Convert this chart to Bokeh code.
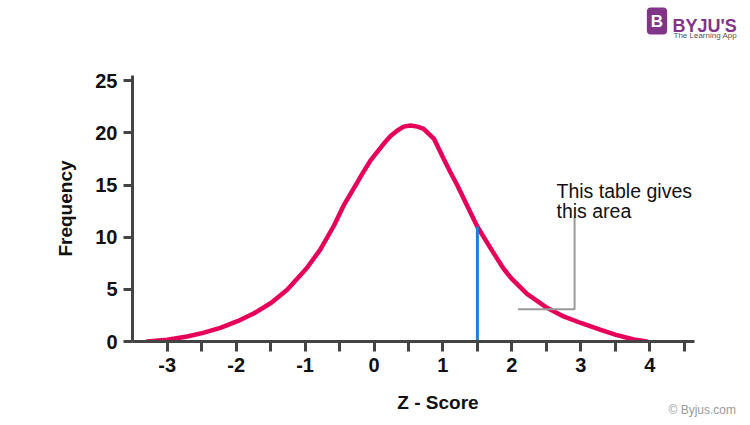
from bokeh.plotting import figure
from bokeh.models import Range1d, FixedTicker, CustomJSTickFormatter, Label
from bokeh.embed import file_html
from bokeh.resources import INLINE

# ---- data ----
z_values = [-3.29, -3.0, -2.71, -2.48, -2.23, -1.98, -1.74, -1.49, -1.26, -0.98,
            -0.78, -0.58, -0.44, -0.24, -0.15, -0.05, 0.14, 0.24, 0.34, 0.43,
            0.53, 0.63, 0.72, 0.87, 0.94, 1.01, 1.11, 1.21, 1.35, 1.5,
            1.69, 1.88, 2.0, 2.22, 2.51, 2.75, 3.01, 3.29, 3.51, 3.77, 3.96]
frequency = [0.0, 0.16, 0.48, 0.83, 1.31, 1.95, 2.71, 3.71, 4.95, 7.0,
             8.8, 11.12, 13.04, 15.27, 16.3, 17.36, 18.95, 19.7, 20.23, 20.6,
             20.7, 20.6, 20.39, 19.43, 18.48, 17.52, 16.2, 14.96, 13.04, 11.0,
             8.95, 6.97, 6.0, 4.57, 3.23, 2.4, 1.75, 1.12, 0.64, 0.19, 0.0]
cutoff_index = 29          # z = 1.5
pointer_z = [2.09, 2.91, 2.91]
pointer_freq = [3.1, 3.1, 11.9]
x_ticks = [-3, -2.5, -2, -1.5, -1, -0.5, 0, 0.5, 1, 1.5, 2, 2.5, 3, 3.5, 4, 4.5]
y_ticks = [0, 5, 10, 15, 20, 25]
note_lines = ["This table gives", "this area"]
x_title = "Z - Score"
y_title = "Frequency"

# ---- layout ----
W, H = 742, 417
ML, MT = 132, 75
FW, FH = 562, 266
MR, MB = W - ML - FW, H - MT - FH
X0, X1 = -3.504, 4.65
Y0, Y1 = 0.0, 25.5

p = figure(width=W, height=H, output_backend="svg", toolbar_location=None,
           title=None,
           x_range=Range1d(X0, X1), y_range=Range1d(Y0, Y1),
           min_border_left=ML, min_border_right=MR,
           min_border_top=MT, min_border_bottom=MB)
p.outline_line_color = None
p.grid.visible = False
p.background_fill_color = "white"
p.border_fill_color = "white"

AX = "#444444"
FONT = "Liberation Sans"
for ax in (p.xaxis[0], p.yaxis[0]):
    ax.axis_line_color = AX
    ax.axis_line_width = 3
    ax.major_tick_line_color = AX
    ax.major_tick_line_width = 3
    ax.major_tick_in = 0
    ax.minor_tick_line_color = None
    ax.major_label_text_font = FONT
    ax.major_label_text_font_style = "bold"
    ax.major_label_text_font_size = "20px"
    ax.major_label_text_color = "#111111"

p.xaxis.ticker = FixedTicker(ticks=x_ticks)
p.xaxis.formatter = CustomJSTickFormatter(
    code="return Number.isInteger(tick) ? tick.toFixed(0) : ''")
p.xaxis.major_tick_out = 10
p.xaxis.major_label_standoff = 6

p.yaxis.ticker = FixedTicker(ticks=y_ticks)
p.yaxis.major_tick_out = 9
p.yaxis.major_label_standoff = 6
p.yaxis.axis_label = y_title
p.yaxis.axis_label_text_font = FONT
p.yaxis.axis_label_text_font_style = "bold"
p.yaxis.axis_label_text_font_size = "19px"
p.yaxis.axis_label_text_color = "#111111"
p.yaxis.axis_label_standoff = 16

# curve
p.line(z_values, frequency, line_color="#E6005A", line_width=4.5,
       line_join="round", line_cap="round")
# cutoff line
p.segment(x0=[z_values[cutoff_index]], y0=[0], x1=[z_values[cutoff_index]],
          y1=[frequency[cutoff_index]], line_color="#1B80D6", line_width=3)
# pointer bracket
p.line(pointer_z, pointer_freq, line_color="#9a9a9a", line_width=2)


def canvas_label(x, y, text, place=None, **kw):
    opts = dict(text_font=FONT, text_color="#111111", text_align="left",
                text_baseline="alphabetic")
    opts.update(kw)
    lab = Label(x=x, y=y, x_units="canvas", y_units="canvas", text=text, **opts)
    if place is None:
        p.add_layout(lab)
    else:
        p.add_layout(lab, place)


# note (inside the frame)
for i, t in enumerate(note_lines):
    canvas_label(556, 190 + 20 * i, t, text_font_size="19.5px")

# texts outside the frame live in the side panels (not clipped)
canvas_label(437.5, 401.5, x_title, place="below", text_font_style="bold",
             text_font_size="19px", text_align="center")
canvas_label(668, 409, "\u00a9 Byjus.com", place="below",
             text_font_size="12px", text_color="#9a9a9a")

canvas_label(656.5, 20.5, "B", place="above", text_font_style="bold",
             text_font_size="17px", text_color="white", text_align="center",
             text_baseline="middle", background_fill_color="#813588",
             padding=4, border_radius=4)
canvas_label(672, 25, "BYJU'S", place="above", text_font_style="bold",
             text_font_size="18px", text_color="#813588")
canvas_label(673, 35, "The Learning App", place="above",
             text_font_size="8px", text_color="#555555")

open("out.html", "w").write(file_html(p, INLINE))
